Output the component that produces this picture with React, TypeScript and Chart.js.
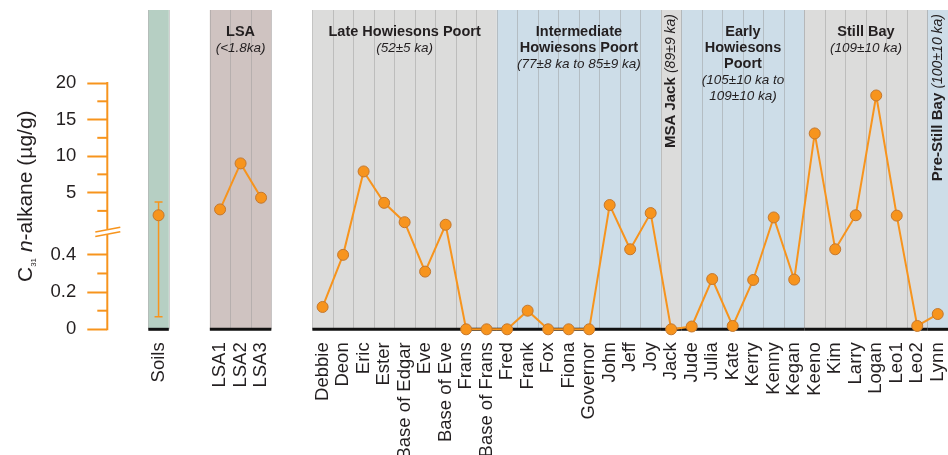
import { useEffect, useRef } from 'react';
import { Chart, registerables, LinearScale } from 'chart.js';

Chart.register(...registerables);

// ---- data -------------------------------------------------------------
const soilsLabel = 'Soils';
const soilsValue = 1.9;
const soilsLow = 0.068;
const soilsHigh = 3.7;

const lsaLabels = ['LSA1', 'LSA2', 'LSA3'];
const lsaValues = [2.7, 9.0, 4.3];
const lsaTitle = ['LSA'];
const lsaAge = ['(<1.8ka)'];

const sampleLabels = [
  'Debbie', 'Deon', 'Eric', 'Ester', 'Base of Edgar', 'Eve', 'Base of Eve', 'Frans', 'Base of Frans',
  'Fred', 'Frank', 'Fox', 'Fiona', 'Governor', 'John', 'Jeff', 'Joy',
  'Jack',
  'Jude', 'Julia', 'Kate', 'Kerry', 'Kenny', 'Kegan',
  'Keeno', 'Kim', 'Larry', 'Logan', 'Leo1', 'Leo2',
  'Lynn',
];
const sampleValues = [
  0.12, 0.40, 7.9, 3.6, 0.95, 0.31, 0.6, 0, 0,
  0, 0.10, 0, 0, 0, 3.3, 0.43, 2.2,
  0,
  0.015, 0.27, 0.018, 0.265, 1.6, 0.267,
  13.1, 0.43, 1.9, 18.3, 1.85, 0.018,
  0.082,
];

const groupTitles = [
  ['Late Howiesons Poort'],
  ['Intermediate', 'Howiesons Poort'],
  ['MSA Jack'],
  ['Early', 'Howiesons', 'Poort'],
  ['Still Bay'],
  ['Pre-Still Bay'],
];
const groupAges = [
  ['(52±5 ka)'],
  ['(77±8 ka to 85±9 ka)'],
  ['(89±9 ka)'],
  ['(105±10 ka to', '109±10 ka)'],
  ['(109±10 ka)'],
  ['(100±10 ka)'],
];
const groupSizes = [9, 8, 1, 6, 6, 1];

const yMajorTicks = [0, 0.2, 0.4, 5, 10, 15, 20];
const yMinorTicks = [0.1, 0.3, 2.5, 7.5, 12.5, 17.5];

// ---- styling ----------------------------------------------------------
const ORANGE = '#f7941d';
const POINT_EDGE = '#c4782e';
const TEXT = '#231f20';
const FONT = "'Liberation Sans', Arial, Helvetica, sans-serif";
const FILL_SOIL = '#b6cfc3';
const FILL_LSA = '#cfc3c1';
const FILL_GRAY = '#dcdcdb';
const FILL_BLUE = '#cddde8';
const SEPARATOR = 'rgba(150,150,150,0.45)';

// ---- broken y axis: 0–0.5 stretched below the break, 0–20 compressed above
const LOWER_LIMIT = 0.5;
const LOWER_UNIT = 186;
const UPPER_OFFSET = 100.1;
const UPPER_UNIT = 7.3;

function toAxisUnits(v: number) {
  return v <= LOWER_LIMIT ? v * LOWER_UNIT : UPPER_OFFSET + v * UPPER_UNIT;
}
function fromAxisUnits(d: number) {
  if (d <= LOWER_LIMIT * LOWER_UNIT) return d / LOWER_UNIT;
  return Math.max(LOWER_LIMIT, (d - UPPER_OFFSET) / UPPER_UNIT);
}

class BrokenLinearScale extends LinearScale {
  static id = 'brokenLinear';
  static defaults = LinearScale.defaults;
  getPixelForValue(value: any) {
    if (value === null || value === undefined || isNaN(value)) return NaN;
    const lo = toAxisUnits(this.min);
    const hi = toAxisUnits(this.max);
    return this.getPixelForDecimal((toAxisUnits(value) - lo) / (hi - lo));
  }
  getValueForPixel(pixel: number) {
    const lo = toAxisUnits(this.min);
    const hi = toAxisUnits(this.max);
    return fromAxisUnits(lo + this.getDecimalForPixel(pixel) * (hi - lo));
  }
}
Chart.register(BrokenLinearScale as any);

// ---- column layout ----------------------------------------------------
const GAP = 2;
const gapLabels = Array(GAP).fill('');
const gapValues = Array(GAP).fill(null);

const allLabels = [...gapLabels, soilsLabel, ...gapLabels, ...lsaLabels, ...gapLabels, ...sampleLabels];
const allValues = [...gapValues, soilsValue, ...gapValues, ...lsaValues, ...gapValues, ...sampleValues];
const soilsIndex = GAP;

type Panel = { start: number; count: number; fill: string; title: string[]; age: string[] };
const panels: Panel[] = [];
{
  let col = GAP;
  panels.push({ start: col, count: 1, fill: FILL_SOIL, title: [], age: [] });
  col += 1 + GAP;
  panels.push({ start: col, count: lsaLabels.length, fill: FILL_LSA, title: lsaTitle, age: lsaAge });
  col += lsaLabels.length + GAP;
  groupSizes.forEach((n, g) => {
    panels.push({ start: col, count: n, fill: g % 2 ? FILL_BLUE : FILL_GRAY, title: groupTitles[g], age: groupAges[g] });
    col += n;
  });
}

const yTicks = [...yMajorTicks, ...yMinorTicks].sort((a, b) => a - b);

function columnEdge(chart: any, i: number) {
  const x = chart.scales.x;
  const w = (chart.chartArea.right - chart.chartArea.left) / allLabels.length;
  return x.getPixelForValue(i) - w / 2;
}

const BOLD = `bold 14.5px ${FONT}`;
const ITALIC = `italic 13.5px ${FONT}`;
const V_BOLD = `bold 15px ${FONT}`;
const V_ITALIC = `italic 14px ${FONT}`;

const panelsPlugin = {
  id: 'panels',
  beforeDraw(chart: any) {
    const { ctx, chartArea } = chart;
    ctx.save();
    for (const p of panels) {
      const x0 = columnEdge(chart, p.start);
      const x1 = columnEdge(chart, p.start + p.count);
      ctx.fillStyle = p.fill;
      ctx.fillRect(x0, chartArea.top, x1 - x0, chartArea.bottom - chartArea.top);
      ctx.strokeStyle = SEPARATOR;
      ctx.lineWidth = 1;
      for (let k = 0; k <= p.count; k++) {
        const xx = Math.round(columnEdge(chart, p.start + k)) + 0.5;
        ctx.beginPath();
        ctx.moveTo(xx, chartArea.top);
        ctx.lineTo(xx, chartArea.bottom);
        ctx.stroke();
      }
    }
    // group headings
    ctx.fillStyle = TEXT;
    for (const p of panels) {
      if (!p.title.length) continue;
      const cx = (columnEdge(chart, p.start) + columnEdge(chart, p.start + p.count)) / 2;
      if (p.count === 1) {
        const title = p.title.join(' ');
        const age = p.age.join(' ');
        ctx.font = V_BOLD;
        const wt = ctx.measureText(title + ' ').width;
        ctx.font = V_ITALIC;
        const wa = ctx.measureText(age).width;
        const startY = chartArea.top + 4 + wt + wa;
        ctx.save();
        ctx.translate(cx, startY);
        ctx.rotate(-Math.PI / 2);
        ctx.textAlign = 'left';
        ctx.textBaseline = 'middle';
        ctx.font = V_BOLD;
        ctx.fillText(title, 0, 0);
        ctx.font = V_ITALIC;
        ctx.fillText(age, wt, 0);
        ctx.restore();
      } else {
        ctx.textAlign = 'center';
        ctx.textBaseline = 'middle';
        let yy = chartArea.top + 22;
        for (const line of p.title) {
          ctx.font = BOLD;
          ctx.fillText(line, cx, yy);
          yy += 16;
        }
        for (const line of p.age) {
          ctx.font = ITALIC;
          ctx.fillText(line, cx, yy);
          yy += 16;
        }
      }
    }
    ctx.restore();
  },
  beforeDatasetsDraw(chart: any) {
    const { ctx, chartArea, scales } = chart;
    const y = scales.y;
    ctx.save();
    // panel baselines
    ctx.strokeStyle = '#111';
    ctx.lineWidth = 3;
    for (const p of panels) {
      ctx.beginPath();
      ctx.moveTo(columnEdge(chart, p.start), chartArea.bottom);
      ctx.lineTo(columnEdge(chart, p.start + p.count), chartArea.bottom);
      ctx.stroke();
    }
    // soils range bar
    const sx = scales.x.getPixelForValue(soilsIndex);
    const yHi = y.getPixelForValue(soilsHigh);
    const yLo = y.getPixelForValue(soilsLow);
    ctx.strokeStyle = ORANGE;
    ctx.lineWidth = 1.5;
    ctx.beginPath();
    ctx.moveTo(sx, yHi);
    ctx.lineTo(sx, yLo);
    ctx.moveTo(sx - 4, yHi);
    ctx.lineTo(sx + 4, yHi);
    ctx.moveTo(sx - 4, yLo);
    ctx.lineTo(sx + 4, yLo);
    ctx.stroke();
    ctx.restore();
  },
  afterDraw(chart: any) {
    const { ctx, chartArea, scales } = chart;
    const y = scales.y;
    const ax = chartArea.left;
    ctx.save();
    ctx.strokeStyle = ORANGE;
    ctx.lineWidth = 2;
    // minor ticks
    for (const v of yMinorTicks) {
      const py = y.getPixelForValue(v);
      ctx.beginPath();
      ctx.moveTo(ax - 10, py);
      ctx.lineTo(ax, py);
      ctx.stroke();
    }
    // axis line with a break between the two segments
    const y0 = y.getPixelForValue(0);
    const yTop = y.getPixelForValue(yMajorTicks[yMajorTicks.length - 1]);
    const yBreak = (y.getPixelForValue(LOWER_LIMIT) + y.getPixelForValue(LOWER_LIMIT + 1e-6)) / 2 + 1;
    ctx.beginPath();
    ctx.moveTo(ax, y0 + 1);
    ctx.lineTo(ax, yBreak + 2.5);
    ctx.moveTo(ax, yBreak - 2.5);
    ctx.lineTo(ax, yTop - 1);
    ctx.stroke();
    ctx.lineWidth = 1.6;
    for (const off of [-2.2, 2.2]) {
      ctx.beginPath();
      ctx.moveTo(ax - 12, yBreak + off + 2.4);
      ctx.lineTo(ax + 13, yBreak + off - 2.4);
      ctx.stroke();
    }
    // axis title: C31 n-alkane (µg/g)
    ctx.fillStyle = TEXT;
    ctx.translate(32, 282);
    ctx.rotate(-Math.PI / 2);
    ctx.textAlign = 'left';
    ctx.textBaseline = 'alphabetic';
    let tx = 0;
    ctx.font = `21px ${FONT}`;
    ctx.fillText('C', tx, 0);
    tx += ctx.measureText('C').width;
    ctx.font = `8px ${FONT}`;
    ctx.fillText('31', tx, 4);
    tx += ctx.measureText('31').width;
    ctx.font = `21px ${FONT}`;
    tx += ctx.measureText(' ').width;
    ctx.font = `italic 21px ${FONT}`;
    ctx.fillText('n', tx, 0);
    tx += ctx.measureText('n').width;
    ctx.font = `21px ${FONT}`;
    ctx.fillText('-alkane (µg/g)', tx, 0);
    ctx.restore();
  },
};

export default function App() {
  const ref = useRef<HTMLCanvasElement>(null);
  useEffect(() => {
    const chart = new Chart(ref.current as HTMLCanvasElement, {
      type: 'line',
      data: {
        labels: allLabels,
        datasets: [
          {
            data: allValues,
            borderColor: ORANGE,
            borderWidth: 2,
            pointRadius: 5.5,
            pointBackgroundColor: ORANGE,
            pointBorderColor: POINT_EDGE,
            pointBorderWidth: 1,
            spanGaps: false,
            tension: 0,
            clip: false as any,
          },
        ],
      },
      options: {
        responsive: false,
        animation: false,
        layout: { autoPadding: false, padding: { top: 10, left: 0, right: 0, bottom: 0 } },
        plugins: { legend: { display: false }, tooltip: { enabled: false } },
        scales: {
          x: {
            type: 'category',
            offset: true,
            grid: { display: false },
            border: { display: false },
            ticks: {
              autoSkip: false,
              maxRotation: 90,
              minRotation: 90,
              padding: 5,
              color: TEXT,
              font: { family: FONT, size: 18.5 },
            },
            afterFit(scale: any) {
              scale.height = 125.7;
              scale.paddingLeft = 0;
              scale.paddingRight = 0;
            },
          },
          y: {
            type: 'brokenLinear' as any,
            min: 0,
            max: 30,
            border: { display: false },
            grid: {
              drawOnChartArea: false,
              drawTicks: true,
              tickLength: 20,
              tickWidth: 2,
              tickColor: (c: any) => (c.tick && yMajorTicks.includes(c.tick.value) ? ORANGE : 'rgba(0,0,0,0)'),
            },
            ticks: {
              autoSkip: false,
              padding: 11,
              color: TEXT,
              font: { family: FONT, size: 18.5 },
              callback: (v: any) => (yMajorTicks.includes(Number(v)) ? String(v) : ''),
            },
            afterBuildTicks(scale: any) {
              scale.ticks = yTicks.map((v) => ({ value: v }));
            },
            afterFit(scale: any) {
              scale.width = 107.3;
              scale.paddingTop = 0;
              scale.paddingBottom = 0;
            },
          } as any,
        },
      },
      plugins: [panelsPlugin],
    });
    return () => chart.destroy();
  }, []);
  return (
    <div style={{ position: 'absolute', left: 0, top: 0, width: 948, height: 455, background: '#fff' }}>
      <canvas ref={ref} width={948} height={455} style={{ display: 'block', width: 948, height: 455 }} />
    </div>
  );
}
